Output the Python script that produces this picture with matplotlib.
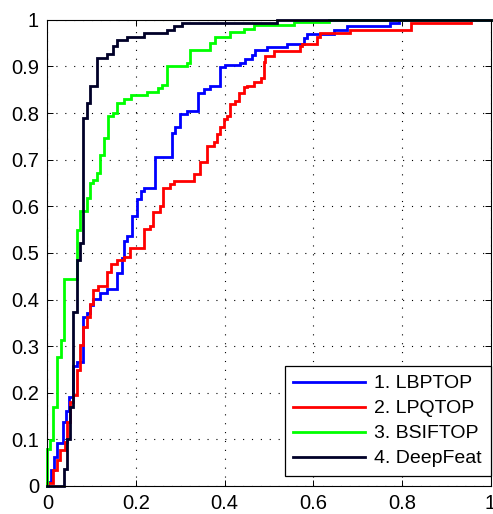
import matplotlib
matplotlib.use("Agg")
import matplotlib.pyplot as plt

plt.rcParams["font.family"] = ["Liberation Sans", "DejaVu Sans"]

# ROC curves (fpr -> tpr reached at that fpr)
lbptop_fpr = [0, 0.002, 0.0075, 0.015, 0.021, 0.036, 0.043, 0.050, 0.059, 0.066, 0.081,
              0.089, 0.096, 0.104, 0.119, 0.134, 0.158, 0.168, 0.172, 0.179, 0.191,
              0.202, 0.211, 0.218, 0.243, 0.281, 0.288, 0.300, 0.315, 0.339, 0.353,
              0.368, 0.390, 0.401, 0.435, 0.447, 0.462, 0.469, 0.496, 0.541, 0.579,
              0.586, 0.646, 0.677, 0.774, 0.793, 1.0]
lbptop_tpr = [0, 0.009, 0.034, 0.062, 0.092, 0.137, 0.160, 0.191, 0.257, 0.265, 0.363,
              0.370, 0.388, 0.402, 0.413, 0.423, 0.456, 0.490, 0.526, 0.536, 0.579,
              0.615, 0.633, 0.639, 0.706, 0.758, 0.769, 0.798, 0.805, 0.844, 0.851,
              0.858, 0.898, 0.903, 0.908, 0.915, 0.925, 0.935, 0.942, 0.948, 0.960,
              0.970, 0.979, 0.986, 0.994, 1.0, 1.0]

lpqtop_fpr = [0, 0.0136, 0.021, 0.029, 0.040, 0.044, 0.051, 0.059, 0.066, 0.074, 0.081,
              0.089, 0.096, 0.104, 0.115, 0.134, 0.143, 0.157, 0.172, 0.187, 0.217,
              0.232, 0.239, 0.255, 0.262, 0.277, 0.285, 0.330, 0.345, 0.360, 0.375,
              0.383, 0.390, 0.398, 0.405, 0.413, 0.424, 0.432, 0.443, 0.450, 0.466,
              0.481, 0.488, 0.492, 0.511, 0.571, 0.575, 0.609, 0.616, 0.684, 0.820,
              0.957, 1.0]
lpqtop_tpr = [0.006, 0.035, 0.055, 0.077, 0.094, 0.137, 0.180, 0.195, 0.248, 0.302, 0.341,
              0.363, 0.391, 0.420, 0.430, 0.459, 0.477, 0.484, 0.491, 0.511, 0.551,
              0.558, 0.587, 0.601, 0.640, 0.647, 0.654, 0.669, 0.694, 0.730, 0.737,
              0.755, 0.769, 0.787, 0.794, 0.819, 0.826, 0.844, 0.855, 0.858, 0.866,
              0.875, 0.909, 0.923, 0.934, 0.943, 0.948, 0.963, 0.971, 0.979, 0.993,
              1.0, 1.0]

bsiftop_fpr = [0, 0, 0.006, 0.0136, 0.021, 0.030, 0.0377, 0.066, 0.074, 0.089, 0.096,
               0.104, 0.113, 0.119, 0.127, 0.136, 0.149, 0.158, 0.172, 0.188, 0.225,
               0.249, 0.258, 0.270, 0.315, 0.323, 0.368, 0.379, 0.413, 0.443, 0.466,
               0.556, 0.635, 1.0]
bsiftop_tpr = [0, 0.080, 0.098, 0.170, 0.277, 0.313, 0.445, 0.549, 0.589, 0.617, 0.650,
               0.657, 0.671, 0.710, 0.746, 0.793, 0.800, 0.821, 0.830, 0.839, 0.845,
               0.853, 0.861, 0.900, 0.907, 0.936, 0.950, 0.963, 0.973, 0.980, 0.988,
               0.995, 1.0, 1.0]

deepfeat_fpr = [0, 0.0377, 0.0437, 0.051, 0.0588, 0.066, 0.074, 0.081, 0.089, 0.097,
                0.113, 0.134, 0.149, 0.157, 0.179, 0.217, 0.270, 0.285, 0.304, 0.518, 1.0]
deepfeat_tpr = [0, 0.037, 0.100, 0.170, 0.373, 0.484, 0.521, 0.789, 0.821, 0.859,
                0.919, 0.926, 0.943, 0.957, 0.964, 0.971, 0.979, 0.987, 0.994, 1.0, 1.0]

series = [
    ("1. LBPTOP", lbptop_fpr, lbptop_tpr, "#0000ff"),
    ("2. LPQTOP", lpqtop_fpr, lpqtop_tpr, "#ff0000"),
    ("3. BSIFTOP", bsiftop_fpr, bsiftop_tpr, "#00ff00"),
    ("4. DeepFeat", deepfeat_fpr, deepfeat_tpr, "#000028"),
]

x_ticks = [0, 0.2, 0.4, 0.6, 0.8, 1]
x_labels = ["0", "0.2", "0.4", "0.6", "0.8", "1"]
y_ticks = [0, 0.1, 0.2, 0.3, 0.4, 0.5, 0.6, 0.7, 0.8, 0.9, 1]
y_labels = ["0", "0.1", "0.2", "0.3", "0.4", "0.5", "0.6", "0.7", "0.8", "0.9", "1"]

fig = plt.figure(figsize=(4.93, 5.14), dpi=100)
ax = fig.add_axes([0.096, 0.0545, 0.899, 0.907])

for label, fpr, tpr, color in series:
    ax.plot(fpr, tpr, drawstyle="steps-post", color=color, lw=2.0,
            label=label, clip_on=False, solid_joinstyle="miter")

ax.set_xlim(0, 1)
ax.set_ylim(0, 1)
ax.set_xticks(x_ticks)
ax.set_xticklabels(x_labels)
ax.set_yticks(y_ticks)
ax.set_yticklabels(y_labels)
ax.tick_params(direction="in", length=4, width=0.7, labelsize=14.5,
               top=True, right=True, pad=6)
ax.grid(True, color="black", linestyle=(0, (1, 7)), linewidth=0.8)
for sp in ax.spines.values():
    sp.set_linewidth(0.8)

leg = ax.legend(loc="lower right", bbox_to_anchor=(1.0, 0.021), borderaxespad=0,
                fontsize=14, fancybox=False, framealpha=1, edgecolor="black",
                handlelength=3.7, handletextpad=0.45, labelspacing=0.38,
                borderpad=0.45)
leg.get_frame().set_linewidth(0.9)

fig.savefig("out.png", dpi=100)
